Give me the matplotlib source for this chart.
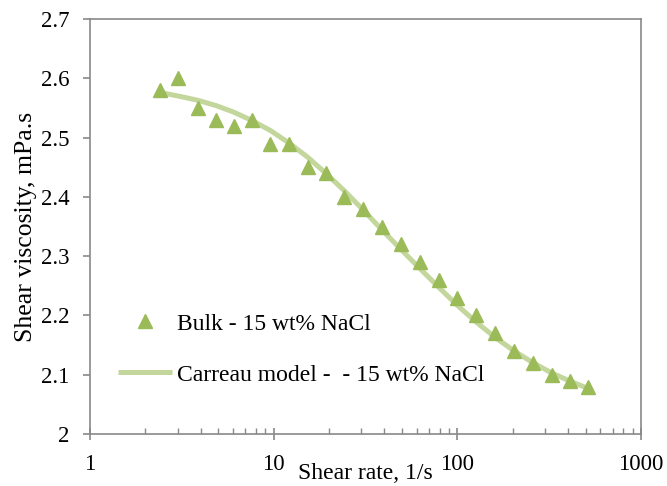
import matplotlib
matplotlib.use("Agg")
import matplotlib.pyplot as plt
from matplotlib.ticker import FixedLocator, LogLocator, NullFormatter

plt.rcParams['font.family'] = ['Liberation Serif', 'DejaVu Serif']

# Measured shear rates (1/s)
shear_rate = [2.41, 3.03, 3.85, 4.85, 6.05, 7.59, 9.59, 12.1, 15.3, 19.2, 24.3, 30.7,
              38.7, 49.1, 62.6, 79.5, 100.0, 126.5, 160.6, 203.8, 258.8, 326.1, 411.9, 512.8]
# Bulk viscosity, 15 wt% NaCl (mPa.s)
bulk_visc = [2.58, 2.60, 2.55, 2.53, 2.52, 2.53, 2.49, 2.49, 2.45, 2.44, 2.40, 2.38,
             2.35, 2.32, 2.29, 2.26, 2.23, 2.20, 2.17, 2.14, 2.12, 2.10, 2.09, 2.08]
# Carreau model fit evaluated at the same shear rates (mPa.s)
carreau_visc = [2.576, 2.570, 2.563, 2.554, 2.543, 2.529, 2.512, 2.491, 2.467, 2.440,
                2.410, 2.378, 2.345, 2.312, 2.279, 2.247, 2.217, 2.189, 2.163, 2.140,
                2.120, 2.103, 2.089, 2.077]

x_ticks = [1, 10, 100, 1000]
x_tick_labels = ["1", "10", "100", "1000"]
y_ticks = [2.0, 2.1, 2.2, 2.3, 2.4, 2.5, 2.6, 2.7]
y_tick_labels = ["2", "2.1", "2.2", "2.3", "2.4", "2.5", "2.6", "2.7"]

marker_color = "#9BBB59"
line_color = "#C3D69B"
axis_color = "#898989"

fig = plt.figure(figsize=(6.67, 4.86), dpi=100)
ax = fig.add_axes([90 / 667, 52 / 486, 551 / 667, 415 / 486])

ax.plot(shear_rate, carreau_visc, color=line_color, lw=3.6, solid_capstyle='butt',
        label="Carreau model -  - 15 wt% NaCl", zorder=2)
ax.plot(shear_rate, bulk_visc, linestyle='none', marker='^', ms=9.5,
        color=marker_color, mec=marker_color, label="Bulk - 15 wt% NaCl", zorder=3)

ax.set_xscale('log')
ax.set_xlim(1, 1000)
ax.set_ylim(2.0, 2.7)

ax.xaxis.set_major_locator(FixedLocator(x_ticks))
ax.set_xticklabels(x_tick_labels)
ax.xaxis.set_minor_locator(LogLocator(base=10, subs=range(2, 10)))
ax.xaxis.set_minor_formatter(NullFormatter())
ax.set_yticks(y_ticks)
ax.set_yticklabels(y_tick_labels)

for side in ax.spines.values():
    side.set_color(axis_color)
    side.set_linewidth(1.2)

ax.tick_params(axis='x', which='major', direction='inout', length=9, width=1.2,
               color=axis_color, labelsize=16.5, pad=10)
ax.tick_params(axis='x', which='minor', direction='in', length=4, width=1.0,
               color=axis_color)
ax.tick_params(axis='y', which='major', direction='out', length=5, width=1.2,
               color=axis_color, labelsize=16.5, pad=9.5)
ax.tick_params(top=False, right=False, which='both')

ax.set_xlabel("Shear rate, 1/s", fontsize=17, labelpad=-8.5)
ax.set_ylabel("Shear viscosity, mPa.s", fontsize=18.5, labelpad=3)

handles, labels = ax.get_legend_handles_labels()
leg = ax.legend(handles[::-1], labels[::-1], loc='center left',
                bbox_to_anchor=(0.05, 0.204), frameon=False, fontsize=17,
                handlelength=2.3, handletextpad=0.2, labelspacing=1.24,
                borderpad=0, borderaxespad=0)

fig.savefig("out.png", dpi=100)
